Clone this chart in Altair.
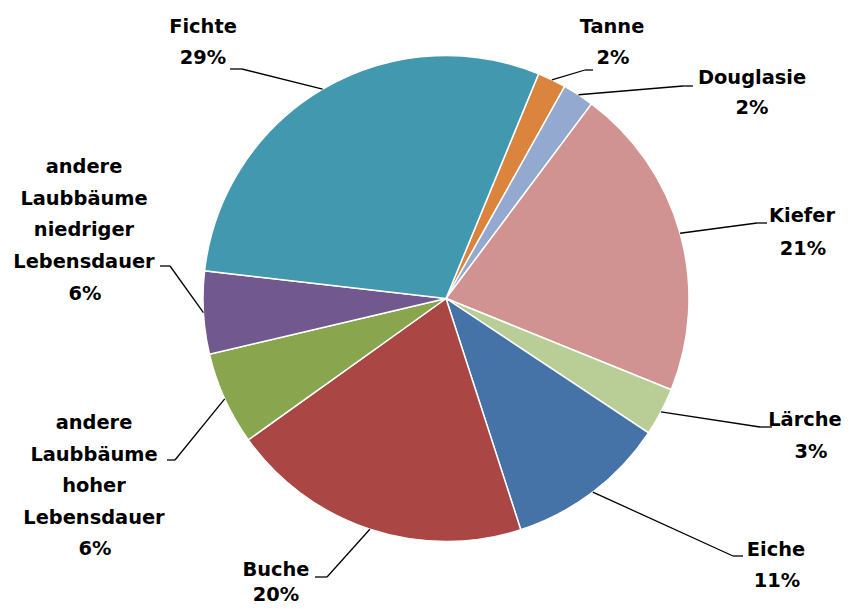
import math
import altair as alt
import pandas as pd

# ---- data ----
species = ["Tanne", "Douglasie", "Kiefer", "Lärche", "Eiche", "Buche",
           "andere Laubbäume hoher Lebensdauer",
           "andere Laubbäume niedriger Lebensdauer", "Fichte"]
shares = [1.9, 2.1, 20.9, 3.2, 10.7, 20.1, 6.2, 5.5, 29.4]
label_names = ["Tanne", "Douglasie", "Kiefer", "Lärche", "Eiche", "Buche",
               "andere\nLaubbäume\nhoher\nLebensdauer",
               "andere\nLaubbäume\nniedriger\nLebensdauer", "Fichte"]
colors = ["#DB843D", "#93A9CF", "#D19392", "#B9CD96", "#4572A7",
          "#AA4643", "#89A54E", "#71588F", "#4198AF"]

# ---- label layout (pixels inside the plot area) ----
name_x = [604, 744, 794, 797, 768, 268, 86, 76, 195]
name_y = [19, 70, 208, 412, 542, 562, 415, 159, 19]
pct_x = [605, 744, 795, 803, 769, 268, 87, 77, 195]
pct_y = [50, 100, 241, 444, 573, 587, 541, 286, 50]
elbow_x = [577, 675, 749, 752, 725, 319, 167, 162, 234]
elbow_y = [62, 78, 215, 419, 548, 569, 452, 258, 61]
end_x = [585, 685, 759, 764, 735, 307, 159, 152, 222]

CX, CY, R = 438, 290.5, 243
START = math.radians(22.4)
TOTAL = sum(shares)

df = pd.DataFrame({
    "idx": list(range(len(species))),
    "species": species,
    "share": shares,
    "name": label_names,
    "pct": [f"{round(s)}%" for s in shares],
    "nx": name_x, "ny": name_y, "px": pct_x, "py": pct_y,
    "bx": elbow_x, "by": elbow_y, "cx2": end_x,
})

arcs = alt.Chart(df).mark_arc(outerRadius=R, stroke="white", strokeWidth=1.5).encode(
    theta=alt.Theta("share:Q", stack=True,
                    scale=alt.Scale(domain=[0, TOTAL], range=[START, START + 2 * math.pi], nice=False, zero=True)),
    color=alt.Color("species:N", scale=alt.Scale(domain=species, range=colors), legend=None),
    order=alt.Order("idx:Q", sort="ascending"),
    x=alt.value(CX), y=alt.value(CY),
)

base = alt.Chart(df).transform_window(
    cum="sum(share)", sort=[alt.SortField("idx")], frame=[None, 0]
).transform_calculate(
    mid=f"{START} + 2*PI*(datum.cum - datum.share/2)/{TOTAL}",
).transform_calculate(
    ex=f"{CX} + {R}*sin(datum.mid)",
    ey=f"{CY} - {R}*cos(datum.mid)",
)

lead1 = base.mark_rule(color="black", strokeWidth=1.3).encode(
    x=alt.X("ex:Q", scale=None, axis=None),
    y=alt.Y("ey:Q", scale=None, axis=None),
    x2="bx:Q", y2="by:Q",
)
lead2 = base.mark_rule(color="black", strokeWidth=1.3).encode(
    x=alt.X("bx:Q", scale=None, axis=None),
    y=alt.Y("by:Q", scale=None, axis=None),
    x2="cx2:Q", y2="by:Q",
)

text_style = dict(font="DejaVu Sans", fontWeight="bold", fontSize=19.4, lineBreak="\n",
                  lineHeight=31.5, align="center", baseline="middle", color="black")

names = alt.Chart(df).mark_text(**text_style).encode(
    x=alt.X("nx:Q", scale=None, axis=None),
    y=alt.Y("ny:Q", scale=None, axis=None),
    text="name:N",
)
pcts = alt.Chart(df).mark_text(**text_style).encode(
    x=alt.X("px:Q", scale=None, axis=None),
    y=alt.Y("py:Q", scale=None, axis=None),
    text="pct:N",
)

chart = alt.layer(arcs, lead1, lead2, names, pcts).properties(
    width=834, height=599, autosize="none", padding=0,
).configure_view(stroke=None)

chart.save("out.html", embed_options={"renderer": "svg", "actions": False})
